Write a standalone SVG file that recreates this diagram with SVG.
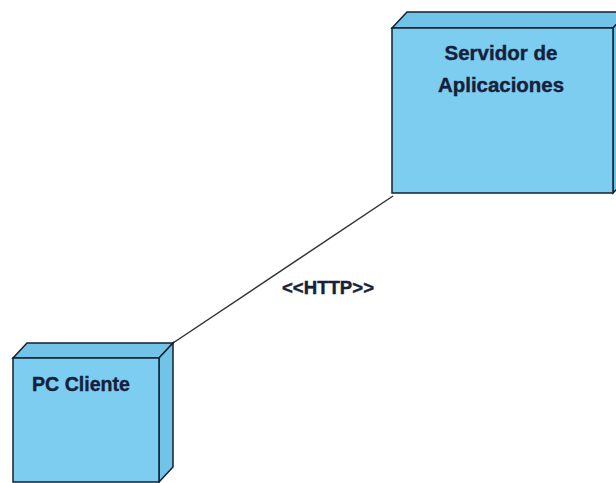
<svg xmlns="http://www.w3.org/2000/svg" width="616" height="483" viewBox="0 0 616 483">
<style>
.face{fill:#7ccdf0;stroke:#13202e;stroke-width:1.5;stroke-linejoin:miter}
.side{fill:#72c3e8;stroke:#13202e;stroke-width:1.5}
.lbl{font-family:"Liberation Sans",Arial,sans-serif;font-weight:bold;fill:#16203a;stroke:#16203a;stroke-width:0.4}
.conn{stroke:#333;stroke-width:1.5;fill:none}
</style>
<rect width="616" height="483" fill="#ffffff"/>
<g id="connectors">
<line class="conn" x1="173" y1="343" x2="393" y2="196"/>
<text class="lbl" x="328" y="294" font-size="18" text-anchor="middle" textLength="92" lengthAdjust="spacingAndGlyphs">&lt;&lt;HTTP&gt;&gt;</text>
</g>
<g id="servidor">
<polygon class="side" points="392,28 407,12 628,12 613,28"/>
<polygon class="side" points="613,28 628,12 628,178 613,193"/>
<rect class="face" x="392" y="28" width="221" height="165"/>
<text class="lbl" x="501" y="60" font-size="21" text-anchor="middle" textLength="113" lengthAdjust="spacingAndGlyphs">Servidor de</text>
<text class="lbl" x="501" y="92" font-size="21" text-anchor="middle" textLength="126" lengthAdjust="spacingAndGlyphs">Aplicaciones</text>
</g>
<g id="pc-cliente">
<polygon class="side" points="13,358 27,343 173,343 159,358"/>
<polygon class="side" points="159,358 173,343 173,467 159,482"/>
<rect class="face" x="13" y="358" width="146" height="124"/>
<text class="lbl" x="32" y="391" font-size="21" textLength="98" lengthAdjust="spacingAndGlyphs">PC Cliente</text>
</g>
</svg>
